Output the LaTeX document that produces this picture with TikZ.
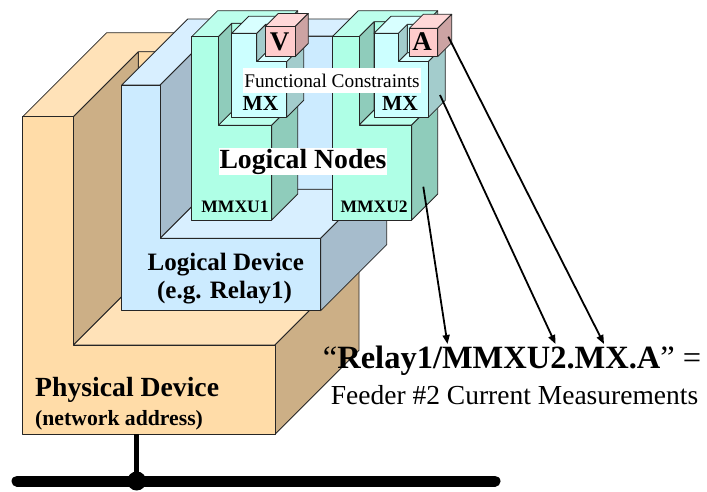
\documentclass[tikz,border=0pt]{standalone}
\usepackage{fontspec}
\setmainfont{Liberation Serif}
\usetikzlibrary{arrows.meta}
\definecolor{orgF}{RGB}{255,220,168}
\definecolor{orgT}{RGB}{255,226,184}
\definecolor{orgS}{RGB}{204,175,134}
\definecolor{bluF}{RGB}{204,235,255}
\definecolor{bluT}{RGB}{216,239,255}
\definecolor{bluS}{RGB}{166,188,204}
\definecolor{grnF}{RGB}{175,255,230}
\definecolor{grnT}{RGB}{188,255,236}
\definecolor{grnS}{RGB}{143,204,187}
\definecolor{mxF}{RGB}{204,255,255}
\definecolor{mxT}{RGB}{216,255,255}
\definecolor{mxS}{RGB}{163,204,204}
\definecolor{pnkF}{RGB}{255,204,204}
\definecolor{pnkT}{RGB}{255,216,216}
\definecolor{pnkS}{RGB}{204,163,163}
\newcommand\fsz[1]{\fontsize{#1}{#1}\selectfont}
% L-shaped block with cavity: x0, xa, x1, ytop, ybar, ybottom, depth, cavity depth, colour set
\newcommand\lblock[9]{%
  \filldraw[face,fill=#9F] (#2,#4,#8) -- (#3,#4,#8) -- (#3,#5,#8) -- (#2,#5,#8) -- cycle;
  \filldraw[face,fill=#9T] (#2,#5,0) -- (#3,#5,0) -- (#3,#5,#8) -- (#2,#5,#8) -- cycle;
  \filldraw[face,fill=#9S] (#2,#4,0) -- (#2,#4,#8) -- (#2,#5,#8) -- (#2,#5,0) -- cycle;
  \filldraw[face,fill=#9S] (#3,#5,0) -- (#3,#5,#8) -- (#3,#4,#8) -- (#3,#4,#7) -- (#3,#6,#7) -- (#3,#6,0) -- cycle;
  \filldraw[face,fill=#9T] (#1,#4,0) -- (#2,#4,0) -- (#2,#4,#8) -- (#3,#4,#8) -- (#3,#4,#7) -- (#1,#4,#7) -- cycle;
  \filldraw[face,fill=#9F] (#1,#4,0) -- (#2,#4,0) -- (#2,#5,0) -- (#3,#5,0) -- (#3,#6,0) -- (#1,#6,0) -- cycle;
}
% simple box: x, ytop, width, height, depth, colour set
\newcommand\cubebox[6]{%
  \filldraw[face,fill=#6T] (#1,#2,0) -- ({#1+#3},#2,0) -- ({#1+#3},#2,#5) -- (#1,#2,#5) -- cycle;
  \filldraw[face,fill=#6S] ({#1+#3},#2,0) -- ({#1+#3},{#2+#4},0) -- ({#1+#3},{#2+#4},#5) -- ({#1+#3},#2,#5) -- cycle;
  \filldraw[face,fill=#6F] (#1,#2,0) -- ({#1+#3},#2,0) -- ({#1+#3},{#2+#4},0) -- (#1,{#2+#4},0) -- cycle;
}
\tikzset{
  face/.style={draw=black!85, line width=0.8pt, line join=round},
  lbl/.style={inner sep=0pt, anchor=base},
  arr/.style={line width=1.8pt, -{Triangle[length=9pt,width=7pt]}},
}
\begin{document}
\begin{tikzpicture}[x={(1pt,0pt)}, y={(0pt,-1pt)}, z={(1pt,1pt)}]
\useasboundingbox (0,0) rectangle (707,491);
% Physical device
\lblock{22.7}{73.3}{275}{116.7}{345}{434.3}{84}{65}{org}
% Logical device
\lblock{121.7}{160}{320.7}{85}{238.3}{310.7}{66}{49}{blu}
% Logical node MMXU1
\lblock{191.7}{218.3}{271.7}{36.7}{125.3}{220}{26}{13.4}{grn}
\lblock{231.7}{256.7}{286.7}{33.3}{61.7}{117.3}{17}{9}{mx}
\cubebox{265}{26.7}{30}{30}{13.3}{pnk}
% Logical node MMXU2
\lblock{332.3}{359}{411.7}{36.7}{125}{220}{26}{15}{grn}
\lblock{374}{398.3}{428.3}{33.3}{61.7}{117.3}{17}{9}{mx}
\cubebox{409.3}{28.3}{28.4}{28.4}{14}{pnk}
% labels
\node[lbl,font=\fsz{17.5}\bfseries] (m1) at (235,212.3) {MMXU1};
\node[lbl,font=\fsz{17.5}\bfseries] (m2) at (374.2,212.3) {MMXU2};
\node[lbl,font=\fsz{21.5}\bfseries] (mx1) at (260.5,110) {MX};
\node[lbl,font=\fsz{21.5}\bfseries] (mx2) at (400,110) {MX};
\node[lbl,font=\fsz{27}\bfseries] (vv) at (279.5,50) {V};
\node[lbl,font=\fsz{27}\bfseries] (aa) at (422,50.3) {A};
\node[lbl,fill=white,inner xsep=1pt,inner ysep=5.5pt,font=\fsz{19.3}] (fc) at (332,87.3) {Functional Constraints};
\node[lbl,fill=white,inner sep=0.6pt,font=\fsz{27.7}\bfseries] (ln) at (303,168.3) {Logical Nodes};
\node[lbl,font=\fsz{25}\bfseries] (ld1) at (225.8,270) {Logical Device};
\node[lbl,font=\fsz{25}\bfseries] (ld2) at (224.5,298.3) {(e.g. Relay1)};
\node[lbl,anchor=base west,font=\fsz{27.7}\bfseries] (pd1) at (35,396.7) {Physical Device};
\node[lbl,anchor=base west,font=\fsz{21.7}\bfseries] (pd2) at (35,425) {(network address)};
\node[lbl,anchor=base west,font=\fsz{32.5}] (ref) at (322.7,368.3) {“\textbf{Relay1/MMXU2.MX.A}” =};
\node[lbl,anchor=base west,font=\fsz{27.5}] (fd) at (330.7,404) {Feeder \#2 Current Measurements};
% arrows
\coordinate (s1) at (423.3,186.7);
\coordinate (e1) at (447.5,344);
\coordinate (s2) at (440,95);
\coordinate (e2) at (555.5,344);
\coordinate (s3) at (448.3,36.7);
\coordinate (e3) at (604,344);
\draw[arr] (s1) -- (e1);
\draw[arr] (s2) -- (e2);
\draw[arr] (s3) -- (e3);
% network bus
\coordinate (pdb) at (136.7,434.3);
\coordinate (busL) at (17,481);
\coordinate (busR) at (495,481);
\draw[line width=11pt, line cap=round] (busL) -- (busR);
\node[circle, fill=black, inner sep=0pt, minimum size=19pt] (junc) at (136.7,481) {};
\draw[line width=5pt] (pdb) -- (junc.center);
\end{tikzpicture}
\end{document}
